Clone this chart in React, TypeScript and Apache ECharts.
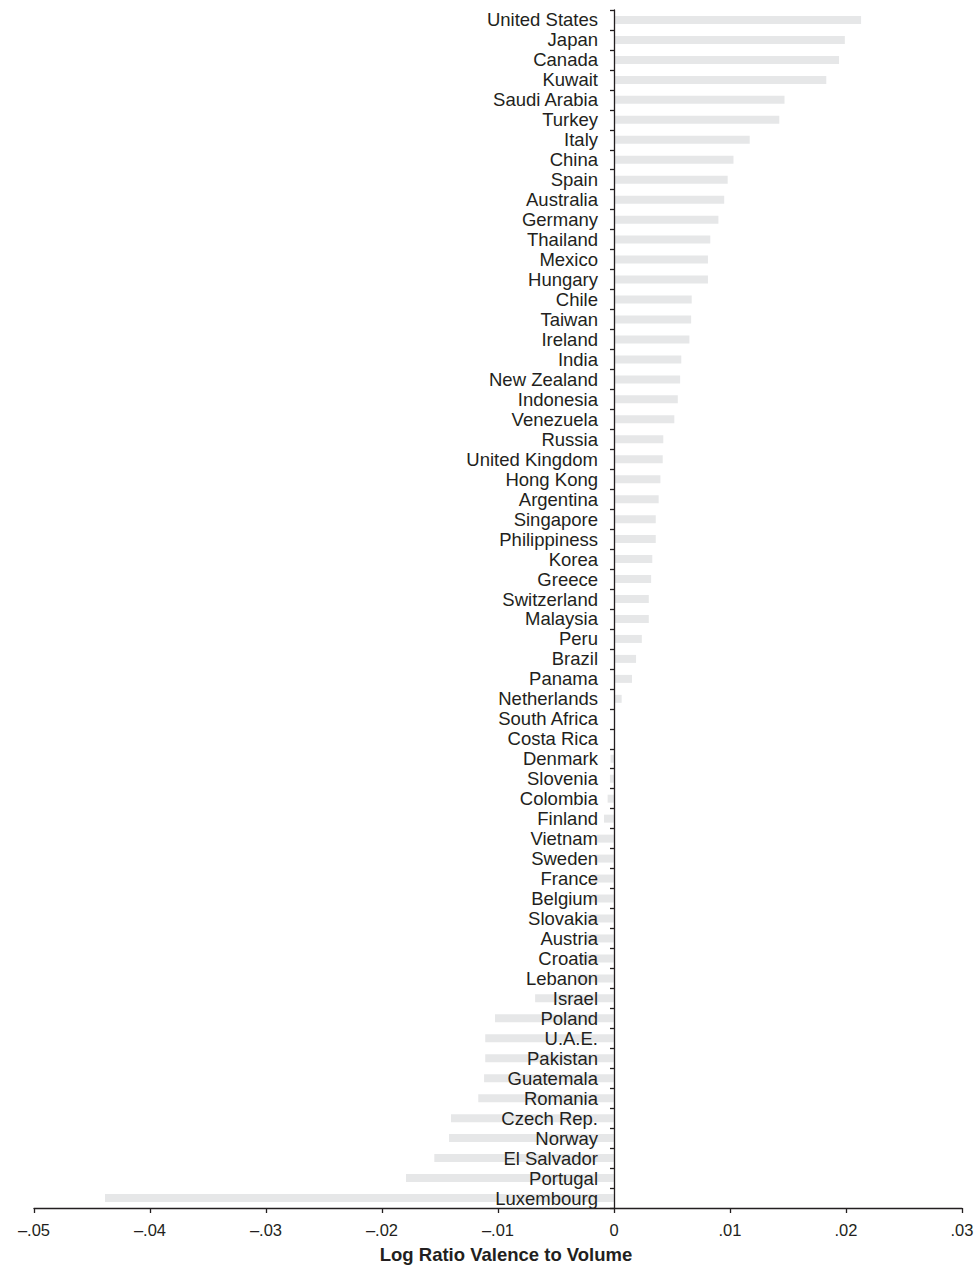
import React, { useEffect, useRef } from "react";
import * as echarts from "echarts";

const countries = [
  "United States", "Japan", "Canada", "Kuwait", "Saudi Arabia", "Turkey", "Italy", "China", "Spain", "Australia",
  "Germany", "Thailand", "Mexico", "Hungary", "Chile", "Taiwan", "Ireland", "India", "New Zealand", "Indonesia",
  "Venezuela", "Russia", "United Kingdom", "Hong Kong", "Argentina", "Singapore", "Philippiness", "Korea", "Greece", "Switzerland",
  "Malaysia", "Peru", "Brazil", "Panama", "Netherlands", "South Africa", "Costa Rica", "Denmark", "Slovenia", "Colombia",
  "Finland", "Vietnam", "Sweden", "France", "Belgium", "Slovakia", "Austria", "Croatia", "Lebanon", "Israel",
  "Poland", "U.A.E.", "Pakistan", "Guatemala", "Romania", "Czech Rep.", "Norway", "El Salvador", "Portugal", "Luxembourg",
];

const logRatio = [
  0.0213, 0.0199, 0.0194, 0.0183, 0.0147, 0.01425, 0.0117, 0.0103, 0.0098, 0.0095,
  0.009, 0.0083, 0.0081, 0.0081, 0.0067, 0.00665, 0.0065, 0.0058, 0.0057, 0.0055,
  0.0052, 0.00425, 0.0042, 0.0040, 0.00385, 0.0036, 0.0036, 0.0033, 0.0032, 0.0030,
  0.0030, 0.0024, 0.0019, 0.00155, 0.00066, 0.0001, 0.00005, -0.0003, -0.00035, -0.00055,
  -0.00086, -0.0015, -0.0017, -0.0019, -0.0021, -0.0023, -0.0025, -0.0028, -0.0032, -0.0068,
  -0.01026, -0.0111, -0.0111, -0.0112, -0.0117, -0.01405, -0.01422, -0.01549, -0.01793, -0.04388,
];

const xMin = -0.05;
const xMax = 0.03;

const xTickLabels: Record<string, string> = {
  "-0.05": "\u2013.05",
  "-0.04": "\u2013.04",
  "-0.03": "\u2013.03",
  "-0.02": "\u2013.02",
  "-0.01": "\u2013.01",
  "0": "0",
  "0.01": ".01",
  "0.02": ".02",
  "0.03": ".03",
};

const axisTitle = "Log Ratio Valence to Volume";

export default function App() {
  const ref = useRef<HTMLDivElement>(null);
  useEffect(() => {
    if (!ref.current) return;
    const chart = echarts.init(ref.current, null, { renderer: "svg" });
    const ink = "#231f20";
    const font = "'Liberation Sans', Arial, Helvetica, sans-serif";
    const gridLeft = 34;
    const gridRight = 16;
    const plotW = 978 - gridLeft - gridRight;
    // pixel offset of the zero line from the grid's left edge
    const zeroOffset = ((0 - xMin) / (xMax - xMin)) * plotW;
    chart.setOption({
      animation: false,
      backgroundColor: "#ffffff",
      grid: {
        left: gridLeft,
        right: gridRight,
        top: 10,
        bottom: 57,
        containLabel: false,
        outerBoundsMode: "none",
      },
      xAxis: {
        type: "value",
        min: xMin,
        max: xMax,
        interval: 0.01,
        splitLine: { show: false },
        axisLine: { show: true, onZero: false, lineStyle: { color: ink, width: 1.3 } },
        axisTick: { show: true, length: 5, lineStyle: { color: ink, width: 1.3 } },
        axisLabel: {
          margin: 13,
          color: ink,
          fontSize: 16.5,
          fontFamily: font,
          formatter: (v: number) => xTickLabels[String(Math.round(v * 100) / 100)] ?? String(v),
        },
      },
      yAxis: {
        type: "category",
        data: countries,
        inverse: true,
        position: "left",
        offset: -zeroOffset,
        z: 5,
        axisLine: { show: true, onZero: false, lineStyle: { color: ink, width: 1.3 } },
        axisTick: { show: true, length: 4, lineStyle: { color: ink, width: 1.3 } },
        axisLabel: {
          margin: 16,
          color: ink,
          fontSize: 18.5,
          fontFamily: font,
          interval: 0,
        },
        splitLine: { show: false },
      },
      series: [
        {
          type: "bar",
          data: logRatio,
          barWidth: 8,
          itemStyle: { color: "#e6e7e8" },
          z: 1,
        },
      ],
      graphic: [
        {
          type: "text",
          x: 506,
          y: 1254,
          style: {
            text: axisTitle,
            fill: ink,
            font: `bold 18.5px ${font}`,
            textAlign: "center",
            textVerticalAlign: "middle",
          },
        },
      ],
    });
    return () => chart.dispose();
  }, []);
  return (
    <div
      ref={ref}
      style={{ position: "absolute", left: 0, top: 0, width: 978, height: 1265 }}
    />
  );
}
